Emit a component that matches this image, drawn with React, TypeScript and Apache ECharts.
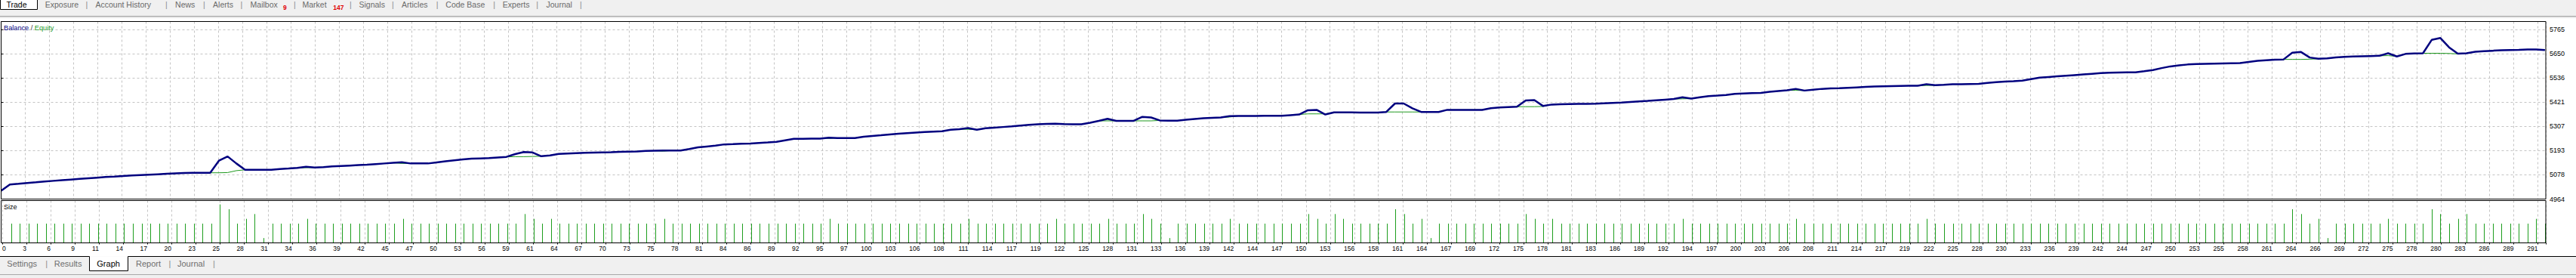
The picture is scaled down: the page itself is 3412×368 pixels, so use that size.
import React, { useEffect, useRef } from 'react';
import * as echarts from 'echarts';

// ---------- data ----------
const xTickLabels = [
  '0','3','6','9','11','14','17','20','23','25','28','31','34','36','39','42','45','47','50','53',
  '56','59','61','64','67','70','73','75','78','81','84','86','89','92','95','97','100','103','106','108',
  '111','114','117','119','122','125','128','131','133','136','139','142','144','147','150','153','156','158','161','164',
  '167','169','172','175','178','181','183','186','189','192','194','197','200','203','206','208','211','214','217','219',
  '222','225','228','230','233','236','239','242','244','247','250','253','255','258','261','264','266','269','272','275',
  '278','280','283','286','289','291',
];
const yTickLabels = ['4964', '5078', '5193', '5307', '5421', '5536', '5650', '5765'];
const Y_BASE = 4964;
const Y_STEP = 114.43;

// balance after each deal (index 0 = start)
const balance = [
  5003,5033,5036,5040,5043,5047,5050,5053,5056,5059,
  5062,5065,5068,5070,5073,5075,5077,5079,5081,5083,
  5085,5087,5088,5088,5088,5145,5165,5132,5102,5102,
  5102,5102,5106,5108,5111,5116,5113,5115,5118,5120,
  5122,5124,5126,5129,5132,5135,5138,5132,5132,5132,
  5137,5142,5147,5151,5155,5156,5157,5160,5163,5176,
  5186,5184,5166,5170,5177,5179,5181,5182,5183,5184,
  5185,5187,5188,5189,5191,5192,5193,5193,5193,5200,
  5208,5212,5216,5222,5223,5225,5226,5229,5231,5234,
  5241,5248,5248,5249,5249,5254,5252,5252,5252,5258,
  5262,5265,5269,5272,5275,5278,5280,5282,5284,5291,
  5294,5299,5291,5298,5301,5304,5307,5311,5314,5317,
  5319,5320,5318,5317,5317,5324,5333,5343,5333,5333,
  5333,5352,5349,5335,5334,5334,5338,5342,5345,5347,
  5349,5355,5356,5356,5356,5357,5357,5357,5360,5363,
  5383,5385,5363,5373,5373,5373,5372,5372,5372,5375,
  5415,5415,5392,5375,5375,5375,5385,5385,5385,5385,
  5385,5393,5396,5398,5400,5429,5431,5403,5410,5411,
  5412,5413,5413,5414,5416,5418,5419,5422,5425,5427,
  5430,5433,5436,5444,5438,5444,5450,5452,5455,5460,
  5462,5464,5465,5470,5474,5477,5484,5476,5480,5484,
  5486,5487,5489,5491,5493,5495,5496,5497,5498,5499,
  5499,5506,5501,5503,5506,5506,5507,5508,5512,5516,
  5518,5520,5523,5530,5537,5540,5543,5546,5549,5552,
  5555,5558,5560,5561,5562,5562,5567,5573,5582,5590,
  5595,5599,5601,5602,5603,5604,5605,5606,5611,5616,
  5619,5622,5623,5655,5658,5632,5626,5628,5632,5635,
  5637,5638,5639,5640,5652,5637,5649,5651,5652,5715,
  5724,5680,5650,5652,5659,5662,5664,5666,5667,5668,
  5670,5670,5667,
];

const equity = [
  5003,5033,5036,5040,5043,5047,5050,5053,5056,5059,
  5062,5065,5068,5070,5073,5075,5077,5079,5081,5083,
  5085,5087,5088,5088,5088,5088,5089,5098,5102,5102,
  5102,5102,5106,5108,5111,5112,5113,5115,5118,5120,
  5122,5124,5126,5129,5132,5135,5132,5132,5132,5132,
  5137,5142,5147,5151,5155,5156,5157,5160,5163,5164,
  5164,5165,5166,5170,5177,5179,5181,5182,5183,5184,
  5185,5187,5188,5189,5191,5192,5190,5193,5193,5200,
  5208,5212,5216,5222,5223,5225,5226,5229,5231,5234,
  5241,5248,5248,5249,5249,5250,5252,5252,5252,5258,
  5262,5265,5269,5272,5275,5278,5280,5282,5284,5291,
  5294,5293,5291,5298,5301,5304,5307,5311,5314,5317,
  5319,5320,5318,5317,5317,5324,5333,5333,5333,5333,
  5333,5333,5333,5335,5334,5334,5338,5342,5345,5347,
  5349,5351,5356,5356,5356,5357,5357,5357,5360,5363,
  5366,5366,5366,5373,5373,5373,5372,5372,5372,5375,
  5375,5375,5375,5375,5375,5375,5385,5385,5385,5385,
  5385,5393,5396,5398,5400,5400,5400,5401,5410,5411,
  5412,5413,5413,5414,5416,5418,5419,5422,5425,5427,
  5430,5433,5436,5437,5438,5444,5450,5452,5455,5460,
  5462,5464,5465,5470,5474,5477,5477,5476,5480,5484,
  5486,5487,5489,5491,5493,5495,5496,5497,5498,5499,
  5499,5500,5501,5503,5506,5506,5507,5508,5512,5516,
  5518,5520,5523,5530,5537,5540,5543,5546,5549,5552,
  5555,5558,5560,5561,5562,5562,5567,5573,5582,5590,
  5595,5599,5601,5602,5603,5604,5605,5606,5611,5616,
  5619,5622,5623,5623,5623,5624,5626,5628,5632,5635,
  5637,5638,5639,5640,5641,5637,5649,5651,5652,5652,
  5652,5651,5649,5652,5659,5662,5664,5666,5667,5668,
  5670,5670,5667,
];

// lot size of deals 1..292
const lotSize = [
  0.04,0.04,0.04,0.04,0.04,0.04,0.04,0.04,0.04,0.04,
  0.04,0.04,0.04,0.04,0.04,0.04,0.04,0.04,0.04,0.04,
  0.04,0.04,0.04,0.04,0.08,0.07,0.04,0.05,0.06,0.01,
  0.04,0.04,0.04,0.04,0.05,0.04,0.04,0.04,0.04,0.04,
  0.04,0.04,0.04,0.04,0.04,0.05,0.04,0.04,0.04,0.04,
  0.04,0.04,0.04,0.04,0.04,0.04,0.04,0.04,0.04,0.06,
  0.05,0.04,0.05,0.04,0.04,0.04,0.04,0.04,0.04,0.04,
  0.04,0.04,0.04,0.04,0.04,0.05,0.04,0.04,0.04,0.04,
  0.04,0.04,0.04,0.04,0.04,0.04,0.04,0.04,0.04,0.04,
  0.04,0.04,0.04,0.04,0.05,0.04,0.04,0.04,0.04,0.04,
  0.04,0.04,0.04,0.04,0.04,0.04,0.04,0.04,0.04,0.04,
  0.05,0.04,0.04,0.04,0.04,0.04,0.04,0.04,0.04,0.04,
  0.05,0.04,0.04,0.04,0.04,0.04,0.05,0.04,0.04,0.04,
  0.06,0.05,0.04,0.01,0.04,0.04,0.04,0.04,0.04,0.04,
  0.05,0.04,0.04,0.04,0.04,0.04,0.04,0.04,0.04,0.06,
  0.05,0.04,0.06,0.05,0.04,0.04,0.04,0.04,0.04,0.07,
  0.06,0.04,0.05,0.01,0.04,0.04,0.04,0.04,0.04,0.04,
  0.04,0.04,0.04,0.04,0.06,0.05,0.04,0.05,0.04,0.04,
  0.04,0.04,0.04,0.04,0.04,0.04,0.04,0.04,0.04,0.04,
  0.04,0.04,0.05,0.04,0.04,0.04,0.04,0.04,0.04,0.04,
  0.04,0.04,0.04,0.04,0.04,0.05,0.04,0.04,0.04,0.04,
  0.04,0.04,0.04,0.04,0.04,0.04,0.04,0.04,0.04,0.04,
  0.05,0.04,0.04,0.04,0.04,0.04,0.04,0.04,0.04,0.04,
  0.04,0.04,0.04,0.04,0.04,0.04,0.04,0.04,0.04,0.04,
  0.04,0.04,0.04,0.04,0.04,0.04,0.04,0.04,0.04,0.04,
  0.04,0.04,0.04,0.04,0.04,0.04,0.04,0.04,0.04,0.04,
  0.04,0.04,0.07,0.06,0.04,0.05,0.01,0.04,0.04,0.04,
  0.04,0.04,0.04,0.05,0.04,0.04,0.04,0.04,0.07,0.06,
  0.04,0.05,0.06,0.04,0.04,0.04,0.04,0.04,0.04,0.04,
  0.05,0.04,
];

const topTabs = ['Trade', 'Exposure', 'Account History', 'News', 'Alerts', 'Mailbox', 'Market', 'Signals', 'Articles', 'Code Base', 'Experts', 'Journal'];
const topBadges = ['9', '147'];
const bottomTabs = ['Settings', 'Results', 'Graph', 'Report', 'Journal'];

// ---------- layout ----------
const FONT = '"Liberation Sans", Arial, sans-serif';
const X_MAX = 292.1;
const X_STEP = 2.7732;
const G_LEFT = 1.5;
const G_WIDTH = 3370.5;
const MAIN_TOP = 28.5;
const MAIN_H = 235;
const SIZE_TOP = 265.5;
const SIZE_H = 56;
const Y_MAX = (MAIN_H / 32.1) * Y_STEP;

function txt(text: string, x: number, y: number, size: number, fill: string, align = 'left', extra: any = {}) {
  return {
    type: 'text',
    x,
    y,
    z: 50,
    style: {
      text,
      fill,
      fontSize: size,
      fontFamily: FONT,
      align,
      textAlign: align,
      verticalAlign: 'middle',
      textVerticalAlign: 'middle',
      ...extra,
    },
  };
}

export default function App() {
  const ref = useRef<HTMLDivElement>(null);

  useEffect(() => {
    document.body.style.margin = '0';
    document.body.style.overflow = 'hidden';
    document.documentElement.style.overflow = 'hidden';
    const chart = echarts.init(ref.current!, null, { renderer: 'svg' });

    const balData = balance.map((v, i) => [i, v - Y_BASE]);
    const eqData = equity.map((v, i) => [i, v - Y_BASE]);
    const lotData = lotSize.map((v, i) => [i + 1, v]);

    const gridLine = { show: true, lineStyle: { color: '#c4c4c4', type: [3, 3], width: 1 } };

    const topTabX = [22, 59.7, 126.5, 232.1, 282.1, 331.6, 400.5, 475.5, 532.1, 590.3, 665.8, 723.5];
    const topSepX = [114.8, 220.4, 270.4, 319.9, 390.3, 464.3, 520.4, 579.1, 654.6, 711.7, 769.4];
    const badgeX = [375, 441.3];
    const bottomTabX = [9.3, 71.7, 128.3, 180, 235];
    const bottomSepX = [61.7, 225, 283.3];

    const graphics: any[] = [
      // top tab strip
      { type: 'rect', z: 1, shape: { x: 0, y: 0, width: 3412, height: 21 }, style: { fill: '#f0f0f0' } },
      { type: 'rect', z: 2, shape: { x: 0, y: 0, width: 49.5, height: 12.5 }, style: { fill: '#ffffff' } },
      { type: 'polyline', z: 3, shape: { points: [[0.5, 0], [0.5, 12.5], [49.5, 12.5], [49.5, 0]] }, style: { stroke: '#000', fill: 'none', lineWidth: 1 } },
      { type: 'line', z: 3, shape: { x1: 0, y1: 21.5, x2: 3412, y2: 21.5 }, style: { stroke: '#a0a0a0', lineWidth: 1 } },
      { type: 'line', z: 3, shape: { x1: 0, y1: 23, x2: 3412, y2: 23 }, style: { stroke: '#d0d0d0', lineWidth: 1 } },
      // bottom tab strip
      { type: 'rect', z: 1, shape: { x: 0, y: 339.5, width: 3412, height: 28.5 }, style: { fill: '#f0f0f0' } },
      { type: 'rect', z: 2, shape: { x: 118.5, y: 339.5, width: 50.5, height: 19 }, style: { fill: '#ffffff' } },
      { type: 'polyline', z: 3, shape: { points: [[0, 339.5], [118.5, 339.5], [118.5, 358.5], [169.5, 358.5], [169.5, 339.5], [3412, 339.5]] }, style: { stroke: '#000', fill: 'none', lineWidth: 1 } },
      { type: 'line', z: 3, shape: { x1: 0, y1: 363.5, x2: 3412, y2: 363.5 }, style: { stroke: '#a8a8a8', lineWidth: 1 } },
      // panel borders
      { type: 'rect', z: 40, shape: { x: G_LEFT, y: MAIN_TOP, width: G_WIDTH, height: MAIN_H }, style: { fill: 'none', stroke: '#000', lineWidth: 1 } },
      { type: 'rect', z: 40, shape: { x: G_LEFT, y: SIZE_TOP, width: G_WIDTH, height: SIZE_H }, style: { fill: 'none', stroke: '#000', lineWidth: 1 } },
      // panel titles
      {
        type: 'text', x: 5, y: 36.7, z: 50,
        style: {
          text: '{b|Balance}{s| / }{e|Equity}',
          verticalAlign: 'middle', textVerticalAlign: 'middle',
          fontFamily: FONT, fontSize: 9.2,
          rich: {
            b: { fill: '#000080', color: '#000080', fontSize: 9.2, fontFamily: FONT },
            s: { fill: '#333333', color: '#333333', fontSize: 9.2, fontFamily: FONT },
            e: { fill: '#1f9a1f', color: '#1f9a1f', fontSize: 9.2, fontFamily: FONT },
          },
        },
      },
      txt('Size', 5, 273.7, 9, '#000'),
    ];

    topTabs.forEach((t, i) => {
      graphics.push(txt(t, topTabX[i], 6.2, 10.5, i === 0 ? '#000' : '#6a6a6a', i === 0 ? 'center' : 'left'));
    });
    topSepX.forEach((x) => graphics.push(txt('|', x, 6.2, 10.5, '#8a8a8a', 'center')));
    topBadges.forEach((b, i) => graphics.push(txt(b, badgeX[i], 9.5, 8.5, '#e00000', 'left', { fontWeight: 'bold' })));
    bottomTabs.forEach((t, i) => {
      graphics.push(txt(t, bottomTabX[i], 349, 11, i === 2 ? '#000' : '#6e6e6e'));
    });
    bottomSepX.forEach((x) => graphics.push(txt('|', x, 349, 11, '#8a8a8a', 'center')));

    const xFmt = (v: number) => {
      const k = Math.round(v / X_STEP);
      if (Math.abs(v - k * X_STEP) > 0.01) return '';
      return xTickLabels[k] ?? '';
    };
    const yFmt = (v: number) => {
      const k = Math.round(v / Y_STEP);
      if (Math.abs(v - k * Y_STEP) > 0.05) return '';
      return yTickLabels[k] ?? '';
    };

    const option: any = {
      animation: false,
      backgroundColor: '#ffffff',
      textStyle: { fontFamily: FONT },
      grid: [
        { left: G_LEFT, top: MAIN_TOP, width: G_WIDTH, height: MAIN_H, show: false, containLabel: false },
        { left: G_LEFT, top: SIZE_TOP, width: G_WIDTH, height: SIZE_H, show: false, containLabel: false },
      ],
      xAxis: [
        {
          type: 'value', gridIndex: 0, min: 0, max: X_MAX, interval: X_STEP,
          axisLine: { show: false }, axisTick: { show: false }, axisLabel: { show: false },
          splitLine: gridLine,
        },
        {
          type: 'value', gridIndex: 1, min: 0, max: X_MAX, interval: X_STEP,
          axisLine: { show: false },
          axisTick: { show: true, length: 2, lineStyle: { color: '#000' } },
          axisLabel: {
            show: true, formatter: xFmt, color: '#000', fontSize: 8.5, fontFamily: FONT,
            align: 'right', margin: 3, alignMinLabel: 'left', showMinLabel: true, showMaxLabel: true,
          },
          splitLine: gridLine,
        },
      ],
      yAxis: [
        {
          type: 'value', gridIndex: 0, position: 'right', min: 0, max: Y_MAX, interval: Y_STEP,
          axisLine: { show: false },
          axisTick: { show: true, length: 3, lineStyle: { color: '#000' } },
          axisLabel: { show: true, formatter: yFmt, color: '#000', fontSize: 9, fontFamily: FONT, margin: 5, showMinLabel: true },
          splitLine: gridLine,
        },
        { type: 'value', gridIndex: 1, min: 0, max: 0.088, show: false, splitLine: { show: false } },
      ],
      graphic: { elements: graphics },
      series: [
        {
          name: 'Equity', type: 'line', xAxisIndex: 0, yAxisIndex: 0, data: eqData,
          symbol: 'none', lineStyle: { color: '#1f9a1f', width: 1 }, z: 3,
        },
        {
          name: 'Balance', type: 'line', xAxisIndex: 0, yAxisIndex: 0, data: balData,
          symbol: 'none', lineStyle: { color: '#00007f', width: 2.5 }, z: 4,
        },
        {
          name: 'Size', type: 'custom', xAxisIndex: 1, yAxisIndex: 1, data: lotData,
          encode: { x: 0, y: 1 },
          renderItem: (_p: any, api: any) => {
            const p0 = api.coord([api.value(0), 0]);
            const p1 = api.coord([api.value(0), api.value(1)]);
            const x = Math.round(p0[0]) + 0.5;
            return {
              type: 'line',
              shape: { x1: x, y1: p0[1], x2: x, y2: p1[1] },
              style: { stroke: '#1e9e1e', lineWidth: 1 },
            };
          },
          z: 5,
        },
      ],
    };

    chart.setOption(option);
    return () => chart.dispose();
  }, []);

  return <div ref={ref} style={{ width: 3412, height: 368, background: '#fff', overflow: 'hidden' }} />;
}
